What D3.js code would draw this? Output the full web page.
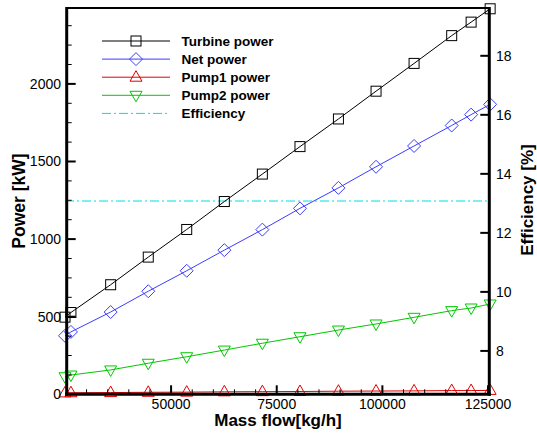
<!DOCTYPE html>
<html>
<head>
<meta charset="utf-8">
<script src="https://cdn.jsdelivr.net/npm/d3@7"></script>
<style>
  body { margin: 0; background: #fff; }
  svg { display: block; font-family: "Liberation Sans", Arial, sans-serif; }
</style>
</head>
<body>
<div id="chart"></div>
<script>
// mass flow [kg/h]
const massFlow = [24900, 26300, 35700, 44600, 53700, 62600, 71600, 80500, 89600, 98500, 107500, 116400, 121000, 125500];
// power series [kW]
const turbinePower = [497, 527, 706, 884, 1062, 1242, 1419, 1596, 1774, 1953, 2132, 2311, 2398, 2484];
const netPower = [377, 402, 530, 664, 796, 929, 1061, 1198, 1330, 1466, 1600, 1732, 1802, 1868];
const pump1Power = [9, 10, 11, 13, 14, 16, 17, 18, 20, 21, 22, 24, 24, 25];
const pump2Power = [113, 124, 157, 200, 242, 285, 329, 371, 414, 453, 496, 539, 556, 582];
// efficiency [%]
const efficiency = [13.08, 13.08, 13.08, 13.08, 13.08, 13.08, 13.08, 13.08, 13.08, 13.08, 13.08, 13.08, 13.08, 13.08];

const xTicks = [50000, 75000, 100000, 125000];
const yTicks = [0, 500, 1000, 1500, 2000];
const y2Ticks = [8, 10, 12, 14, 16, 18];

const width = 537, height = 433;
const plotLeft = 66.7, plotRight = 489.3, plotTop = 8, plotBottom = 394.3;

const svg = d3.select('#chart').append('svg')
    .attr('width', width)
    .attr('height', height);

const x = d3.scaleLinear().domain([25300, 125300]).range([plotLeft, plotRight]);
const y = d3.scaleLinear().domain([0, 2489]).range([plotBottom, plotTop]);
const y2 = d3.scaleLinear().domain([6.53, 19.62]).range([plotBottom, plotTop]);

const series = [
    { name: 'Turbine power', values: turbinePower, color: '#000000', marker: 'square' },
    { name: 'Net power', values: netPower, color: '#3c3cff', marker: 'diamond' },
    { name: 'Pump1 power', values: pump1Power, color: '#e00000', marker: 'triangle' },
    { name: 'Pump2 power', values: pump2Power, color: '#00c800', marker: 'triangleDown' }
];

function drawMarker(g, type, cx, cy, color) {
    if (type === 'square') {
        g.append('rect')
            .attr('x', cx - 5).attr('y', cy - 5)
            .attr('width', 10).attr('height', 10)
            .attr('fill', 'none').attr('stroke', color).attr('stroke-width', 1);
    } else if (type === 'diamond') {
        g.append('path')
            .attr('d', `M${cx},${cy - 6.5}L${cx + 6.5},${cy}L${cx},${cy + 6.5}L${cx - 6.5},${cy}Z`)
            .attr('fill', 'none').attr('stroke', color).attr('stroke-width', 1);
    } else if (type === 'triangle') {
        g.append('path')
            .attr('d', `M${cx},${cy - 6.5}L${cx + 6},${cy + 4}L${cx - 6},${cy + 4}Z`)
            .attr('fill', 'none').attr('stroke', color).attr('stroke-width', 1);
    } else {
        g.append('path')
            .attr('d', `M${cx},${cy + 6.5}L${cx + 6},${cy - 4}L${cx - 6},${cy - 4}Z`)
            .attr('fill', 'none').attr('stroke', color).attr('stroke-width', 1);
    }
}

// efficiency line (right axis)
const effLine = d3.line().x((d, i) => x(massFlow[i])).y(d => y2(d));
svg.append('path')
    .datum(efficiency)
    .attr('d', effLine)
    .attr('fill', 'none')
    .attr('stroke', '#00dede')
    .attr('stroke-width', 1)
    .attr('stroke-dasharray', '9,3,2,3');

// power lines + markers
const line = d3.line().x((d, i) => x(massFlow[i])).y(d => y(d));
series.forEach(s => {
    svg.append('path')
        .datum(s.values)
        .attr('d', line)
        .attr('fill', 'none')
        .attr('stroke', s.color)
        .attr('stroke-width', 1);
    const mg = svg.append('g');
    s.values.forEach((v, i) => drawMarker(mg, s.marker, x(massFlow[i]), y(v), s.color));
});

// frame
svg.append('line').attr('x1', plotLeft).attr('x2', plotRight).attr('y1', plotTop).attr('y2', plotTop)
    .attr('stroke', '#000').attr('stroke-width', 2);

// bottom axis
const xMinor = d3.range(30000, 125001, 5000);
svg.append('g').selectAll('line').data(xMinor).join('line')
    .attr('x1', d => x(d)).attr('x2', d => x(d))
    .attr('y1', plotBottom).attr('y2', d => plotBottom - (d % 25000 === 0 ? 9 : 5))
    .attr('stroke', '#000').attr('stroke-width', d => d % 25000 === 0 ? 2 : 1);
svg.append('g').selectAll('text').data(xTicks).join('text')
    .attr('x', d => x(d)).attr('y', 409)
    .attr('text-anchor', 'middle').attr('font-size', '14px')
    .text(d => d);

// left axis
const yMinor = d3.range(0, 2489, 125);
svg.append('g').selectAll('line').data(yMinor).join('line')
    .attr('x1', plotLeft).attr('x2', d => plotLeft + (d % 500 === 0 ? 9 : 5))
    .attr('y1', d => y(d)).attr('y2', d => y(d))
    .attr('stroke', '#000').attr('stroke-width', d => d % 500 === 0 ? 2 : 1);
svg.append('g').selectAll('text').data(yTicks).join('text')
    .attr('x', 61).attr('y', d => y(d) + 5)
    .attr('text-anchor', 'end').attr('font-size', '14px')
    .text(d => d);

// right axis
svg.append('g').selectAll('line').data(y2Ticks).join('line')
    .attr('x1', plotRight).attr('x2', plotRight - 9)
    .attr('y1', d => y2(d)).attr('y2', d => y2(d))
    .attr('stroke', '#000').attr('stroke-width', 2);
svg.append('g').selectAll('text').data(y2Ticks).join('text')
    .attr('x', 496).attr('y', d => y2(d) + 5)
    .attr('font-size', '14px')
    .text(d => d);

svg.append('line').attr('x1', plotLeft).attr('x2', plotLeft).attr('y1', plotTop - 1).attr('y2', plotBottom + 1.5)
    .attr('stroke', '#000').attr('stroke-width', 3);
svg.append('line').attr('x1', plotRight).attr('x2', plotRight).attr('y1', plotTop - 1).attr('y2', plotBottom + 1.5)
    .attr('stroke', '#000').attr('stroke-width', 3);
svg.append('line').attr('x1', plotLeft - 1.5).attr('x2', plotRight + 1.5).attr('y1', plotBottom).attr('y2', plotBottom)
    .attr('stroke', '#000').attr('stroke-width', 3);

// axis titles
svg.append('text')
    .attr('transform', 'translate(25,201) rotate(-90)')
    .attr('text-anchor', 'middle').attr('font-size', '17.5px').attr('font-weight', 'bold')
    .text('Power [kW]');
svg.append('text')
    .attr('transform', 'translate(532.5,200) rotate(-90)')
    .attr('text-anchor', 'middle').attr('font-size', '17px').attr('font-weight', 'bold')
    .text('Efficiency [%]');
svg.append('text')
    .attr('x', 278).attr('y', 426)
    .attr('text-anchor', 'middle').attr('font-size', '17px').attr('font-weight', 'bold')
    .text('Mass flow[kg/h]');

// legend
const legendItems = series.concat([{ name: 'Efficiency', color: '#00dede', marker: null }]);
const legend = svg.append('g');
legendItems.forEach((s, i) => {
    const ly = 41 + i * 18.1;
    legend.append('line')
        .attr('x1', 102).attr('x2', 170).attr('y1', ly).attr('y2', ly)
        .attr('stroke', s.color).attr('stroke-width', 1)
        .attr('stroke-dasharray', s.marker ? null : '9,3,2,3');
    if (s.marker) drawMarker(legend, s.marker, 136, ly, s.color);
    legend.append('text')
        .attr('x', 181.5).attr('y', ly + 5)
        .attr('font-size', '13.5px').attr('font-weight', 'bold')
        .text(s.name);
});
</script>
</body>
</html>
